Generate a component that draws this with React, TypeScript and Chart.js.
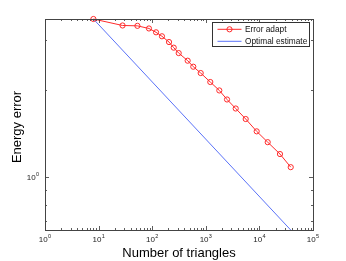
import React, { useEffect, useRef } from 'react';
import { Chart, registerables } from 'chart.js';

Chart.register(...registerables);

const adaptTriangles = [8, 28, 53, 87, 118, 152, 206, 252, 312, 459, 584, 803, 1213, 1787, 2488, 3614, 5550, 8900, 14290, 24200, 38400];
const adaptError = [3.55, 3.37, 3.36, 3.29, 3.19, 3.09, 2.95, 2.82, 2.7, 2.54, 2.42, 2.3, 2.14, 2.0, 1.86, 1.73, 1.59, 1.44, 1.32, 1.2, 1.08];
const optimalTriangles = [8, 38400];
const optimalError = [3.55, 0.652];
const xTickExponents = [0, 1, 2, 3, 4, 5];
const yTickExponents = [0];
const seriesLabels = ['Error adapt', 'Optimal estimate'];
const xTitle = 'Number of triangles';
const yTitle = 'Energy error';

const RED = '#ff2a2a';
const BLUE = '#5a72f8';
const FONT = '"Liberation Sans", Arial, Helvetica, sans-serif';

function drawPow(ctx: CanvasRenderingContext2D, exp: number, x: number, y: number, align: 'center' | 'right') {
  ctx.font = `8px ${FONT}`;
  const w1 = ctx.measureText('10').width;
  ctx.font = `5.5px ${FONT}`;
  const w2 = ctx.measureText(String(exp)).width;
  const total = w1 + w2 + 0.3;
  const x0 = align === 'center' ? x - total / 2 : x - total;
  ctx.textAlign = 'left';
  ctx.textBaseline = 'middle';
  ctx.font = `8px ${FONT}`;
  ctx.fillText('10', x0, y);
  ctx.font = `5.5px ${FONT}`;
  ctx.fillText(String(exp), x0 + w1 + 0.3, y - 3.5);
}

const axesPlugin = {
  id: 'matlabAxes',
  afterDraw(chart: any) {
    const ctx: CanvasRenderingContext2D = chart.ctx;
    const { left, right, top, bottom } = chart.chartArea;
    const xs = chart.scales.x;
    const ys = chart.scales.y;
    ctx.save();
    // ticks
    ctx.strokeStyle = '#333';
    ctx.lineWidth = 0.8;
    ctx.beginPath();
    for (let k = xTickExponents[0]; k < xTickExponents[xTickExponents.length - 1]; k++) {
      for (let m = 1; m <= 9; m++) {
        const v = m * Math.pow(10, k);
        const px = Math.round(xs.getPixelForValue(v)) + 0.5;
        const len = m === 1 ? 4 : 2;
        ctx.moveTo(px, bottom);
        ctx.lineTo(px, bottom - len);
        ctx.moveTo(px, top);
        ctx.lineTo(px, top + len);
      }
    }
    const yMin = ys.min, yMax = ys.max;
    for (let k = -1; k <= 1; k++) {
      for (let m = 1; m <= 9; m++) {
        const v = m * Math.pow(10, k);
        if (v < yMin || v > yMax) continue;
        const py = Math.round(ys.getPixelForValue(v)) + 0.5;
        const len = m === 1 ? 4 : 2;
        ctx.moveTo(left, py);
        ctx.lineTo(left + len, py);
        ctx.moveTo(right, py);
        ctx.lineTo(right - len, py);
      }
    }
    ctx.stroke();
    // frame
    ctx.strokeStyle = '#444';
    ctx.lineWidth = 1;
    ctx.strokeRect(Math.round(left) + 0.5, Math.round(top) + 0.5, Math.round(right - left), Math.round(bottom - top));
    // tick labels
    ctx.fillStyle = '#222';
    xTickExponents.forEach((e) => {
      const px = xs.getPixelForValue(Math.pow(10, e));
      drawPow(ctx, e, px, bottom + 10, 'center');
    });
    yTickExponents.forEach((e) => {
      const py = ys.getPixelForValue(Math.pow(10, e));
      drawPow(ctx, e, left - 6, py + 1, 'right');
    });
    // titles
    ctx.fillStyle = '#000';
    ctx.font = `13px ${FONT}`;
    ctx.textAlign = 'center';
    ctx.textBaseline = 'middle';
    ctx.fillText(xTitle, (left + right) / 2, bottom + 23);
    ctx.save();
    ctx.translate(17, (top + bottom) / 2 + 2.5);
    ctx.rotate(-Math.PI / 2);
    ctx.fillText(yTitle, 0, 0);
    ctx.restore();
    // legend
    const lx = 212.5, ly = 22.5, lw = 97, lh = 24;
    ctx.fillStyle = '#fff';
    ctx.fillRect(lx, ly, lw, lh);
    ctx.strokeStyle = '#333';
    ctx.lineWidth = 1;
    ctx.strokeRect(lx, ly, lw, lh);
    const colors = [RED, BLUE];
    seriesLabels.forEach((lab, i) => {
      const yy = ly + 6.8 + i * 12;
      ctx.strokeStyle = colors[i];
      ctx.lineWidth = 1;
      ctx.beginPath();
      ctx.moveTo(lx + 5, yy);
      ctx.lineTo(lx + 29, yy);
      ctx.stroke();
      if (i === 0) {
        ctx.beginPath();
        ctx.arc(lx + 17, yy, 2.6, 0, Math.PI * 2);
        ctx.stroke();
      }
      ctx.fillStyle = '#111';
      ctx.font = `8.3px ${FONT}`;
      ctx.textAlign = 'left';
      ctx.textBaseline = 'middle';
      ctx.fillText(lab, lx + 32.5, yy + 0.5);
    });
    ctx.restore();
  },
};

export default function App() {
  const ref = useRef<HTMLCanvasElement | null>(null);
  useEffect(() => {
    if (!ref.current) return;
    const chart = new Chart(ref.current, {
      type: 'scatter',
      data: {
        datasets: [
          {
            label: seriesLabels[0],
            data: adaptTriangles.map((x, i) => ({ x, y: adaptError[i] })),
            showLine: true,
            borderColor: RED,
            borderWidth: 1,
            pointRadius: 2.6,
            pointBorderWidth: 1,
            pointBorderColor: RED,
            pointBackgroundColor: 'rgba(0,0,0,0)',
            clip: false as any,
          },
          {
            label: seriesLabels[1],
            data: optimalTriangles.map((x, i) => ({ x, y: optimalError[i] })),
            showLine: true,
            borderColor: BLUE,
            borderWidth: 1,
            pointRadius: 0,
            clip: false as any,
          },
        ],
      },
      plugins: [axesPlugin],
      options: {
        responsive: false,
        animation: false,
        devicePixelRatio: 1,
        layout: { padding: { left: 45, right: 33, top: 19, bottom: 31 } },
        plugins: { legend: { display: false }, tooltip: { enabled: false } },
        scales: {
          x: { type: 'logarithmic', min: 1, max: 100000, display: false },
          y: { type: 'logarithmic', min: 0.652, max: 3.55, display: false },
        },
      },
    });
    return () => chart.destroy();
  }, []);
  return (
    <div style={{ position: 'fixed', left: 0, top: 0, width: 346, height: 261, background: '#fff' }}>
      <canvas ref={ref} width={346} height={261} style={{ display: 'block' }} />
    </div>
  );
}
